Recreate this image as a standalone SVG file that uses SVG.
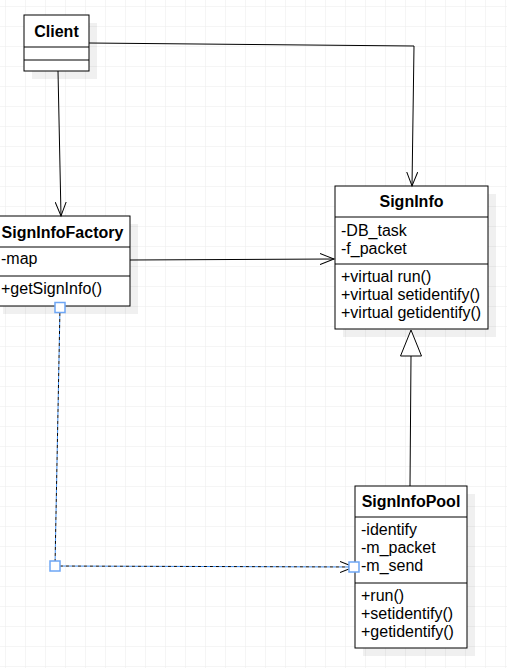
<svg xmlns="http://www.w3.org/2000/svg" width="507" height="668" viewBox="0 0 507 668">
  <style>
    .box { fill: #ffffff; stroke: #000000; stroke-width: 1; }
    .shadow { fill: #000000; fill-opacity: 0.06; stroke: none; }
    .sep { stroke: #000000; stroke-width: 1; fill: none; }
    .title { font-family: "Liberation Sans", Arial, sans-serif; font-size: 16px; font-weight: bold; text-anchor: middle; fill: #000000; }
    .member { font-family: "Liberation Sans", Arial, sans-serif; font-size: 16px; fill: #000000; }
    .edge { stroke: #000000; stroke-width: 1; fill: none; }
    .handle { fill: #ffffff; stroke: #6ea6f5; stroke-width: 1.5; }
  </style>
  <defs>
    <pattern id="grid" x="5" y="6" width="20" height="20" patternUnits="userSpaceOnUse">
      <path d="M 0 0 H 20 M 0 0 V 20" stroke="#ebebeb" stroke-width="1" fill="none"/>
    </pattern>
    <marker id="open" markerWidth="16" markerHeight="12" refX="14" refY="6" orient="auto" markerUnits="userSpaceOnUse">
      <path d="M 0 0.5 L 14 6 L 0 11.5" fill="none" stroke="#000000" stroke-width="1"/>
    </marker>
  </defs>
  <rect x="0" y="0" width="507" height="668" fill="#ffffff"/>
  <rect x="0" y="0" width="507" height="668" fill="url(#grid)"/>

  <g id="Client">
    <rect class="shadow" x="32" y="23" width="65" height="56"/>
    <rect class="box" x="24" y="15" width="65" height="56"/>
    <line class="sep" x1="24" y1="47" x2="89" y2="47"/>
    <line class="sep" x1="24" y1="60" x2="89" y2="60"/>
    <text class="title" x="56.5" y="36.5">Client</text>
  </g>

  <g id="SignInfoFactory">
    <rect class="shadow" x="3" y="224" width="135" height="90"/>
    <rect class="box" x="-5" y="216" width="135" height="90"/>
    <line class="sep" x1="-5" y1="247" x2="130" y2="247"/>
    <line class="sep" x1="-5" y1="276" x2="130" y2="276"/>
    <text class="title" x="62.5" y="238">SignInfoFactory</text>
    <text class="member" x="1" y="264">-map</text>
    <text class="member" x="1" y="294">+getSignInfo()</text>
  </g>

  <g id="SignInfo">
    <rect class="shadow" x="343" y="194" width="153" height="143"/>
    <rect class="box" x="335" y="186" width="153" height="143"/>
    <line class="sep" x1="335" y1="217" x2="488" y2="217"/>
    <line class="sep" x1="335" y1="264" x2="488" y2="264"/>
    <text class="title" x="411.5" y="207">SignInfo</text>
    <text class="member" x="341" y="235.5">-DB_task</text>
    <text class="member" x="341" y="253.5">-f_packet</text>
    <text class="member" x="341" y="282">+virtual run()</text>
    <text class="member" x="341" y="300">+virtual setidentify()</text>
    <text class="member" x="341" y="318">+virtual getidentify()</text>
  </g>

  <g id="SignInfoPool">
    <rect class="shadow" x="363" y="494" width="112" height="162"/>
    <rect class="box" x="355" y="486" width="112" height="162"/>
    <line class="sep" x1="355" y1="517" x2="467" y2="517"/>
    <line class="sep" x1="355" y1="583" x2="467" y2="583"/>
    <text class="title" x="411" y="506.5">SignInfoPool</text>
    <text class="member" x="361" y="535">-identify</text>
    <text class="member" x="361" y="553">-m_packet</text>
    <text class="member" x="361" y="571">-m_send</text>
    <text class="member" x="361" y="601">+run()</text>
    <text class="member" x="361" y="619">+setidentify()</text>
    <text class="member" x="361" y="637">+getidentify()</text>
  </g>

  <g id="connectors">
    <polyline class="edge" points="89,43 414,46 412,186" marker-end="url(#open)"/>
    <line class="edge" x1="58" y1="71" x2="61" y2="216" marker-end="url(#open)"/>
    <line class="edge" x1="130" y1="260" x2="334" y2="259" marker-end="url(#open)"/>
    <line class="edge" x1="410" y1="486" x2="411" y2="356"/>
    <path d="M 411 330 L 400.5 356 L 421.5 356 Z" fill="#ffffff" stroke="#000000" stroke-width="1"/>
    <polyline class="edge" points="60,307 55,566 354,567" stroke-dasharray="3 3" marker-end="url(#open)"/>
    <polyline points="60,307 55,566 354,567" fill="none" stroke="#3d8cf0" stroke-width="1" stroke-dasharray="3 3" stroke-dashoffset="3"/>
    <rect class="handle" x="55" y="302.5" width="10" height="10"/>
    <rect class="handle" x="50" y="561" width="10" height="10"/>
    <rect class="handle" x="349" y="562" width="10" height="10"/>
  </g>
</svg>
